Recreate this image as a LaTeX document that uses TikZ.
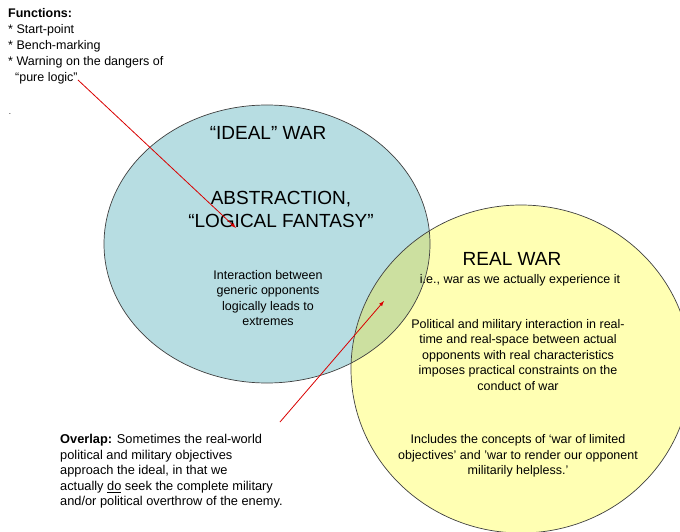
\documentclass[tikz,border=0pt]{standalone}
\usepackage{fontspec}
\setmainfont{Liberation Sans}
\begin{document}
\begin{tikzpicture}[x=1pt,y=-1pt,
  small/.style={font=\fontsize{12.5}{15.5}\selectfont,align=center},
  big/.style={font=\fontsize{19}{23}\selectfont,align=center},
  arr/.style={red!85!black,-latex,line width=0.8pt}]
\useasboundingbox (0,0) rectangle (680,532);
\coordinate (cb) at (267,244);
\coordinate (cy) at (521,369);
\fill[fill={rgb,255:red,183;green,221;blue,226}] (cb) ellipse [x radius=163,y radius=139];
\fill[fill={rgb,255:red,255;green,255;blue,179}] (cy) ellipse [x radius=170,y radius=164];
\begin{scope}
\clip (cb) ellipse [x radius=163,y radius=139];
\fill[fill={rgb,255:red,204;green,224;blue,160}] (cy) ellipse [x radius=170,y radius=164];
\end{scope}
\draw[black!75,line width=0.7pt] (cb) ellipse [x radius=163,y radius=139];
\draw[black!75,line width=0.7pt] (cy) ellipse [x radius=170,y radius=164];
\node[anchor=north west,align=left,font=\fontsize{12.5}{16}\selectfont,inner sep=0] (fn) at (8,8)
 {\textbf{Functions:}\\* Start-point\\* Bench-marking\\* Warning on the dangers of\\\ \ “pure logic”};
\node[font=\fontsize{8}{8}\selectfont] (dot) at (10,114) {.};
\node[big] (ideal) at (268,133) {“IDEAL” WAR};
\node[big] (abs) at (281,209) {ABSTRACTION,\\“LOGICAL FANTASY”};
\node[small] (inter) at (268,298) {Interaction between\\generic opponents\\logically leads to\\extremes};
\node[big] (real) at (512,259) {REAL WAR};
\node[small] (ie) at (520,280) {i.e., war as we actually experience it};
\node[small] (pol) at (518,355) {Political and military interaction in real-\\time and real-space between actual\\opponents with real characteristics\\imposes practical constraints on the\\conduct of war};
\node[small] (inc) at (518,456) {Includes the concepts of ‘war of limited\\objectives’ and ’war to render our opponent\\militarily helpless.’};
\node[anchor=north west,align=left,font=\fontsize{12.8}{15.6}\selectfont,inner sep=0] (ov) at (60,434)
 {\textbf{Overlap:} Sometimes the real-world\\political and military objectives\\approach the ideal, in that we\\actually \underline{do} seek the complete military\\and/or political overthrow of the enemy.};
\coordinate (a1) at (78,80);
\coordinate (b1) at (236,228);
\coordinate (a2) at (280,422);
\coordinate (b2) at (384,301);
\draw[arr] (a1) -- (b1);
\draw[arr] (a2) -- (b2);
\end{tikzpicture}
\end{document}
